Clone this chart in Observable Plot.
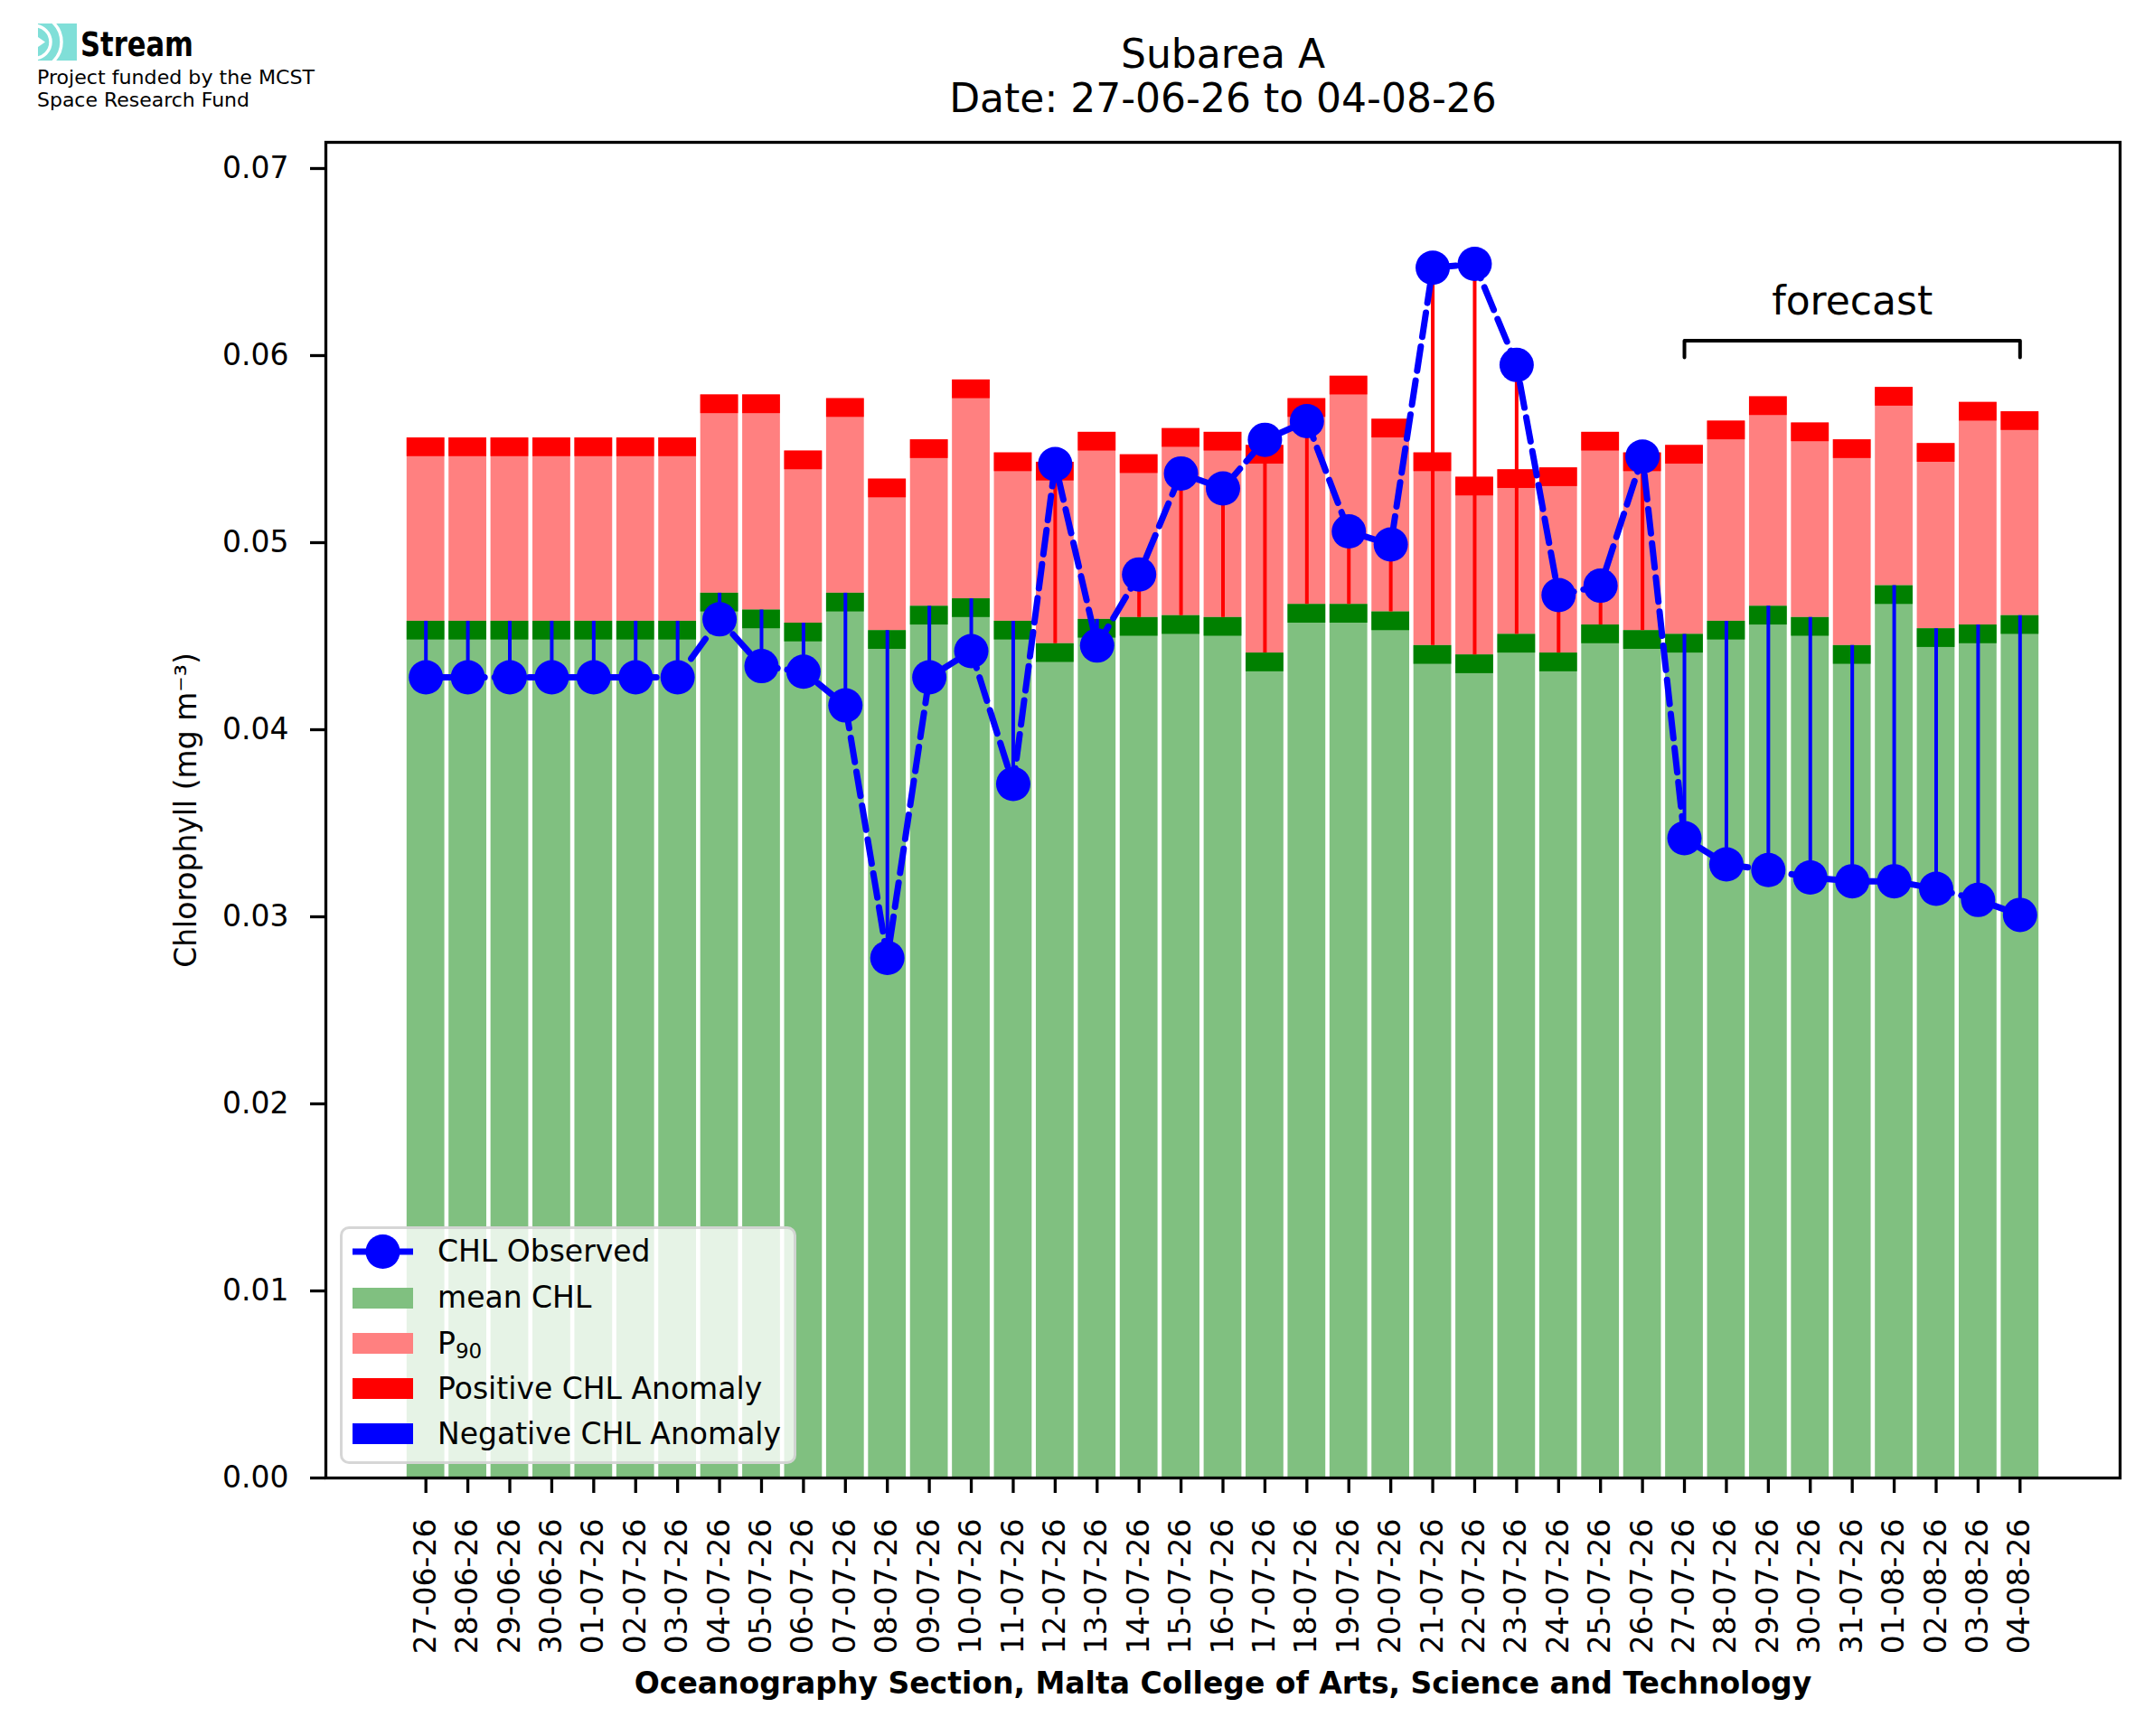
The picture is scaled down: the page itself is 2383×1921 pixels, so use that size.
<!DOCTYPE html>
<html>
<head>
<meta charset="utf-8">
<script src="https://cdn.jsdelivr.net/npm/d3@7"></script>
<script src="https://cdn.jsdelivr.net/npm/@observablehq/plot@0.6"></script>
<style>
html, body { margin: 0; padding: 0; background: #fff; }
#wrap { position: relative; width: 2383px; height: 1921px; overflow: hidden; font-family: "DejaVu Sans", sans-serif; background: #fff; }
#chart { position: absolute; left: 0; top: 0; }
#logo { position: absolute; left: 0; top: 0; }
#legend { position: absolute; left: 376px; top: 1357px; width: 505px; height: 263px; box-sizing: border-box;
  background: rgba(255,255,255,0.8); border: 3px solid rgba(204,204,204,0.8); border-radius: 10px; }
.item { position: absolute; left: 0; width: 100%; height: 40px; }
.sw { position: absolute; left: 11px; top: 8.5px; width: 67px; height: 23px; }
.lab { position: absolute; left: 105px; top: 0; font-size: 33px; line-height: 40px; white-space: nowrap; color: #000; }
.lab sub { font-size: 23px; vertical-align: -5px; line-height: 0; }
</style>
</head>
<body>
<div id="wrap">
  <div id="chart"></div>
  <svg id="logo" width="420" height="140" xmlns="http://www.w3.org/2000/svg">
    <defs><clipPath id="lc"><rect x="42" y="26" width="43" height="41"/></clipPath></defs>
    <g clip-path="url(#lc)">
      <rect x="42" y="26" width="43" height="41" fill="#80dfd8"/>
      <circle cx="38" cy="46.5" r="18" fill="none" stroke="#fff" stroke-width="3.5"/>
      <circle cx="38" cy="46.5" r="30" fill="none" stroke="#fff" stroke-width="3.5"/>
      <path d="M42,41 L50,46.5 L42,52 Z" fill="#fff"/>
    </g>
    <text x="89" y="62" font-family="'DejaVu Sans', sans-serif" font-weight="700" font-size="37" textLength="125" lengthAdjust="spacingAndGlyphs" fill="#000">Stream</text>
    <text x="41" y="93" font-family="'DejaVu Sans', sans-serif" font-size="21" textLength="307" lengthAdjust="spacingAndGlyphs" fill="#000">Project funded by the MCST</text>
    <text x="41" y="118" font-family="'DejaVu Sans', sans-serif" font-size="21" textLength="235" lengthAdjust="spacingAndGlyphs" fill="#000">Space Research Fund</text>
  </svg>
  <div id="legend">
    <div class="item" style="top:5.3px">
      <svg class="sw" style="top:0;height:40px" width="67" height="40"><line x1="0" y1="20" x2="67" y2="20" stroke="#0000ff" stroke-width="7"/><circle cx="33.5" cy="20" r="19" fill="#0000ff"/></svg>
      <div class="lab">CHL Observed</div>
    </div>
    <div class="item" style="top:56.3px"><div class="sw" style="background:#80c080"></div><div class="lab">mean CHL</div></div>
    <div class="item" style="top:106.6px"><div class="sw" style="background:#ff8080"></div><div class="lab">P<sub>90</sub></div></div>
    <div class="item" style="top:156.5px"><div class="sw" style="background:#ff0000"></div><div class="lab">Positive CHL Anomaly</div></div>
    <div class="item" style="top:206.7px"><div class="sw" style="background:#0000ff"></div><div class="lab">Negative CHL Anomaly</div></div>
  </div>
</div>
<script>
// ---- data ----
const dates = ["27-06-26","28-06-26","29-06-26","30-06-26","01-07-26","02-07-26","03-07-26","04-07-26","05-07-26","06-07-26",
  "07-07-26","08-07-26","09-07-26","10-07-26","11-07-26","12-07-26","13-07-26","14-07-26","15-07-26","16-07-26",
  "17-07-26","18-07-26","19-07-26","20-07-26","21-07-26","22-07-26","23-07-26","24-07-26","25-07-26","26-07-26",
  "27-07-26","28-07-26","29-07-26","30-07-26","31-07-26","01-08-26","02-08-26","03-08-26","04-08-26"];
const meanCHL = [0.0458,0.0458,0.0458,0.0458,0.0458,0.0458,0.0458,0.0473,0.0464,0.0457,
  0.0473,0.0453,0.0466,0.0470,0.0458,0.0446,0.0459,0.0460,0.0461,0.0460,
  0.0441,0.0467,0.0467,0.0463,0.0445,0.0440,0.0451,0.0441,0.0456,0.0453,
  0.0451,0.0458,0.0466,0.0460,0.0445,0.0477,0.0454,0.0456,0.0461];
const p90CHL = [0.0556,0.0556,0.0556,0.0556,0.0556,0.0556,0.0556,0.0579,0.0579,0.0549,
  0.0577,0.0534,0.0555,0.0587,0.0548,0.0543,0.0559,0.0547,0.0561,0.0559,
  0.0552,0.0577,0.0589,0.0566,0.0548,0.0535,0.0539,0.0540,0.0559,0.0548,
  0.0552,0.0565,0.0578,0.0564,0.0555,0.0583,0.0553,0.0575,0.0570];
const obsCHL = [0.0428,0.0428,0.0428,0.0428,0.0428,0.0428,0.0428,0.0459,0.0434,0.0431,
  0.0413,0.0278,0.0428,0.0442,0.0371,0.0542,0.0445,0.0483,0.0537,0.0529,
  0.0555,0.0565,0.0506,0.0499,0.0647,0.0649,0.0595,0.0472,0.0477,0.0546,
  0.0342,0.0328,0.0325,0.0321,0.0319,0.0319,0.0315,0.0309,0.0301];
const yTicks = [0, 0.01, 0.02, 0.03, 0.04, 0.05, 0.06, 0.07];

const titleLine1 = "Subarea A";
const titleLine2 = "Date: 27-06-26 to 04-08-26";
const yLabel = "Chlorophyll (mg m\u207B\u00B3)";
const xLabel = "Oceanography Section, Malta College of Arts, Science and Technology";
const forecastLabel = "forecast";
const forecastStart = "27-07-26";
const forecastEnd = "04-08-26";

// ---- derived table ----
const rows = dates.map((d, i) => ({date: d, mean: meanCHL[i], p90: p90CHL[i], obs: obsCHL[i]}));
const BAND = 0.001;          // thickness of the dark caps
const bracketTop = 0.0608, bracketFoot = 0.0599, forecastTextY = 0.0629;
const iS = dates.indexOf(forecastStart), iE = dates.indexOf(forecastEnd);
const forecastMid = dates[Math.round((iS + iE) / 2)];
const bracket = [
  {x: forecastStart, y: bracketFoot}, {x: forecastStart, y: bracketTop},
  {x: forecastEnd, y: bracketTop}, {x: forecastEnd, y: bracketFoot}
];

const chart = Plot.plot({
  width: 2383,
  height: 1921,
  marginTop: 157,
  marginRight: 38,
  marginBottom: 286,
  marginLeft: 360,
  style: {fontFamily: "'DejaVu Sans', sans-serif", fontSize: "33px", background: "transparent", color: "black", overflow: "visible"},
  x: {type: "band", domain: dates, paddingInner: 0.1, paddingOuter: 1.935, align: 0.5, round: false},
  y: {domain: [0, 0.0714]},
  marks: [
    Plot.barY(rows, {x: "date", y1: () => 0, y2: "mean", fill: "#80c080"}),
    Plot.barY(rows, {x: "date", y1: "mean", y2: "p90", fill: "#ff8080"}),
    Plot.barY(rows, {x: "date", y1: d => d.mean - BAND, y2: "mean", fill: "#008000"}),
    Plot.barY(rows, {x: "date", y1: d => d.p90 - BAND, y2: "p90", fill: "#ff0000"}),
    Plot.ruleX(rows, {x: "date", y1: "mean", y2: "obs", stroke: d => d.obs >= d.mean ? "#ff0000" : "#0000ff", strokeWidth: 4}),
    Plot.line(rows, {x: "date", y: "obs", stroke: "#0000ff", strokeWidth: 7, strokeDasharray: "27,11"}),
    Plot.dot(rows, {x: "date", y: "obs", r: 19, fill: "#0000ff", stroke: null}),
    Plot.line(bracket, {x: "x", y: "y", stroke: "black", strokeWidth: 4}),
    Plot.text([forecastLabel], {x: () => forecastMid, y: () => forecastTextY, text: d => d, fontSize: 44, lineAnchor: "middle"}),
    Plot.frame({stroke: "black", strokeWidth: 3.3}),
    Plot.axisY({ticks: yTicks, tickFormat: d3.format(".2f"), tickSize: 17, tickPadding: 24, strokeWidth: 3.3, fontSize: 33, label: null}),
    Plot.axisX({tickRotate: -90, tickSize: 17, tickPadding: 28, strokeWidth: 3.3, fontSize: 33, label: null}),
    Plot.text([yLabel], {frameAnchor: "left", rotate: -90, dx: -144, lineAnchor: "bottom", textAnchor: "middle", fontSize: 33}),
    Plot.text([xLabel], {frameAnchor: "bottom", dy: 238, lineAnchor: "bottom", fontWeight: "bold", fontSize: 33}),
    Plot.text([titleLine1], {frameAnchor: "top", dy: -83, lineAnchor: "bottom", fontSize: 44}),
    Plot.text([titleLine2], {frameAnchor: "top", dy: -34, lineAnchor: "bottom", fontSize: 44})
  ]
});
document.getElementById("chart").appendChild(chart);
</script>
</body>
</html>
